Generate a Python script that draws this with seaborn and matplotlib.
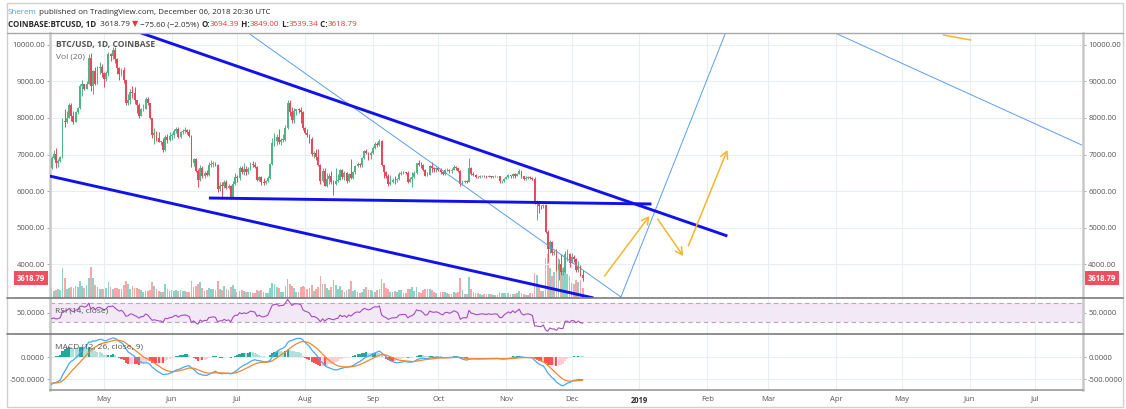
"""
BTC/USD daily chart (TradingView style) with trendlines, RSI and MACD panes.
"""
import matplotlib
matplotlib.use("Agg")
import matplotlib.pyplot as plt
import matplotlib.dates as mdates
import matplotlib.transforms as mtransforms
from matplotlib.lines import Line2D
from matplotlib.patches import Rectangle
import numpy as np
import pandas as pd
import seaborn as sns

W, H = 1126, 409

# ---- data ----------------------------------------------------------------
# closes before the visible window, only used to warm up RSI / MACD
warmup_close = [
    9100, 8830, 9180, 8190, 6950, 7680, 7620, 8250, 8700, 8560, 8080, 8890, 8540, 9470,
    10040, 10170, 11100, 10400, 11150, 11230, 10470, 9830, 10160, 9680, 9600, 10330, 10590, 10330,
    10900, 11000, 11450, 11500, 11560, 10770, 9900, 9300, 9230, 8790, 9540, 9140, 9150, 8200,
    8260, 8270, 7870, 8200, 8600, 8900, 8900, 8720, 8920, 8550, 8450, 8130, 7790, 7950,
    7090, 6840, 6930, 6820, 7050, 7420, 6790, 6780, 6630,
]
first_day = "2018-04-07"

close = [
    # Apr
    6900, 7020, 6770, 6830, 6930, 7920, 7890, 8000, 8360, 8060, 7890, 8160, 8280, 8860, 8920, 8800,
    8940, 9650, 8870, 9280, 8930, 9350, 9400, 9240,
    # May
    9070, 9220, 9740, 9700, 9860, 9620, 9370, 9190, 9320, 9030, 8420, 8480, 8720, 8680, 8490, 8340,
    8060, 8240, 8240, 8520, 8400, 8000, 7520, 7580, 7460, 7350, 7350, 7110, 7470, 7400, 7500,
    # Jun
    7520, 7640, 7710, 7490, 7620, 7650, 7680, 7620, 7510, 6770, 6880, 6550, 6310, 6640, 6400, 6490,
    6450, 6710, 6740, 6760, 6720, 6050, 6150, 6140, 6250, 6080, 6130, 5850, 6200, 6390,
    # Jul
    6360, 6620, 6510, 6600, 6530, 6610, 6750, 6710, 6670, 6300, 6390, 6250, 6220, 6270, 6350, 6730,
    7320, 7380, 7470, 7330, 7400, 7400, 7720, 8400, 8170, 7930, 8180, 8230, 8210, 8170, 7730,
    # Aug
    7600, 7530, 7410, 7010, 7030, 6940, 6720, 6280, 6540, 6150, 6320, 6400, 6260, 6190, 6270, 6310,
    6580, 6390, 6490, 6270, 6480, 6360, 6530, 6690, 6740, 6700, 6900, 7090, 7030, 6980, 7030,
    # Sep
    7190, 7280, 7260, 7360, 6700, 6510, 6410, 6190, 6250, 6300, 6290, 6320, 6480, 6500, 6520, 6500,
    6250, 6340, 6380, 6490, 6760, 6710, 6700, 6580, 6420, 6450, 6680, 6620, 6600, 6630,
    # Oct
    6590, 6510, 6460, 6570, 6590, 6540, 6580, 6660, 6630, 6560, 6200, 6260, 6270, 6260, 6640, 6470,
    6450, 6390, 6380, 6410, 6420, 6410, 6390, 6420, 6390, 6400, 6410, 6400, 6270, 6270, 6340,
    # Nov
    6390, 6440, 6400, 6480, 6420, 6480, 6540, 6400, 6340, 6370, 6380, 6360, 6330, 5650, 5650, 5600,
    5580, 5630, 4870, 4430, 4600, 4320, 4330, 3850, 4000, 3800, 3800, 4270, 4280, 4040,
    # Dec
    4200, 4140, 3840, 3960, 3694.39, 3618.79,
]

high = [
    6950, 7110, 7180, 6880, 6970, 8000, 8230, 8180, 8410, 8410, 8180, 8200, 8300, 8930, 9040, 8940,
    9000, 9750, 9760, 9310, 9380, 9430, 9530, 9460,
    9250, 9270, 9800, 9780, 9940, 9950, 9640, 9390, 9370, 9380, 9040, 8650, 8780, 8870, 8850, 8500,
    8400, 8280, 8380, 8580, 8560, 8410, 8010, 7730, 7650, 7620, 7380, 7450, 7530, 7560, 7620,
    7600, 7700, 7760, 7760, 7650, 7700, 7760, 7700, 7690, 7520, 6900, 6900, 6600, 6700, 6680, 6560,
    6580, 6800, 6850, 6830, 6800, 6740, 6250, 6260, 6300, 6290, 6200, 6180, 6280, 6490,
    6440, 6680, 6680, 6780, 6690, 6650, 6790, 6810, 6800, 6690, 6400, 6400, 6350, 6310, 6400, 6760,
    7450, 7590, 7550, 7690, 7440, 7550, 7800, 8500, 8490, 8300, 8270, 8250, 8280, 8290, 8180,
    7760, 7700, 7560, 7490, 7090, 7160, 7150, 6750, 6620, 6620, 6490, 6490, 6550, 6290, 6620, 6480,
    6600, 6610, 6550, 6520, 6500, 6890, 6560, 6720, 6800, 6780, 6940, 7130, 7140, 7080, 7100,
    7240, 7340, 7340, 7410, 7390, 6720, 6550, 6470, 6440, 6370, 6400, 6350, 6530, 6550, 6560, 6530,
    6540, 6390, 6520, 6540, 6780, 6840, 6790, 6730, 6600, 6530, 6720, 6800, 6650, 6650,
    6660, 6620, 6540, 6600, 6640, 6600, 6620, 6700, 6680, 6640, 6570, 6300, 6300, 6310, 6900, 6660,
    6510, 6480, 6420, 6440, 6450, 6440, 6420, 6450, 6420, 6420, 6430, 6420, 6410, 6300, 6360,
    6410, 6460, 6450, 6500, 6490, 6500, 6600, 6550, 6420, 6400, 6400, 6420, 6380, 6380, 5760, 5670,
    5620, 5650, 5650, 4950, 4660, 4640, 4400, 4420, 4150, 4280, 3930, 4370, 4420, 4310,
    4320, 4250, 4160, 4090, 3970, 3849,
]

low = [
    6610, 6880, 6630, 6660, 6790, 6900, 7750, 7850, 7990, 7920, 7830, 7880, 8110, 8250, 8600, 8760,
    8790, 8930, 8730, 8650, 8900, 8920, 9200, 9110,
    8850, 9000, 9150, 9550, 9600, 9500, 9200, 9030, 9140, 8960, 8340, 8340, 8380, 8540, 8380, 8140,
    8000, 8060, 8190, 8230, 8340, 7960, 7450, 7300, 7360, 7350, 7250, 7080, 7090, 7310, 7380,
    7400, 7460, 7580, 7450, 7440, 7560, 7600, 7560, 7470, 6660, 6680, 6520, 6120, 6280, 6350, 6370,
    6420, 6420, 6650, 6670, 6690, 5980, 6000, 5780, 6080, 6050, 6050, 5780, 5830, 6180,
    6250, 6300, 6460, 6450, 6450, 6480, 6580, 6670, 6620, 6280, 6280, 6180, 6160, 6190, 6250, 6340,
    6700, 7240, 7270, 7300, 7270, 7330, 7380, 7700, 8050, 7860, 7850, 8080, 8130, 7860, 7660,
    7550, 7480, 7320, 6950, 6900, 6860, 6690, 6200, 6250, 6130, 6120, 6200, 6200, 5900, 6170, 6240,
    6290, 6330, 6300, 6230, 6250, 6320, 6330, 6470, 6650, 6650, 6670, 6870, 7010, 6860, 6880,
    7010, 7150, 7210, 7230, 6680, 6350, 6370, 6130, 6160, 6220, 6200, 6260, 6300, 6430, 6480, 6460,
    6230, 6240, 6100, 6370, 6480, 6680, 6620, 6550, 6400, 6400, 6440, 6530, 6530, 6530,
    6550, 6480, 6430, 6440, 6540, 6500, 6500, 6570, 6590, 6530, 6150, 6160, 6230, 6220, 6240, 6430,
    6420, 6360, 6360, 6370, 6390, 6390, 6370, 6380, 6370, 6370, 6380, 6380, 6210, 6230, 6250,
    6330, 6360, 6370, 6370, 6370, 6400, 6470, 6360, 6300, 6310, 6330, 6340, 6290, 5640, 5200, 5400,
    5510, 5530, 4850, 4050, 4300, 4250, 4250, 3820, 3580, 3720, 3700, 3760, 4080, 3930,
    4040, 4050, 3780, 3780, 3680, 3539.34,
]

volume_k = [
    10, 7, 8, 9, 8, 30, 20, 9, 10, 11, 10, 12, 11, 17, 12, 10, 13, 20, 31, 20, 13, 11, 9, 9,
    9, 10, 16, 11, 9, 10, 10, 9, 9, 13, 17, 14, 9, 12, 10, 10, 9, 8, 6, 7, 7, 8, 16, 12, 9, 7,
    6, 6, 14, 9, 7,
    8, 7, 8, 7, 8, 7, 7, 6, 6, 17, 11, 12, 14, 16, 10, 7, 8, 10, 9, 9, 8, 17, 9, 8, 12, 9, 8, 11,
    13, 9,
    6, 7, 8, 7, 6, 6, 6, 5, 5, 8, 7, 8, 6, 5, 5, 10, 15, 14, 11, 10, 6, 6, 12, 19, 14, 12, 10, 6,
    6, 11, 12,
    11, 9, 10, 13, 7, 9, 11, 22, 14, 14, 10, 8, 11, 18, 13, 9, 12, 8, 6, 8, 9, 17, 7, 8, 6, 5, 6,
    9, 11, 8, 8,
    7, 6, 8, 9, 19, 15, 10, 9, 6, 6, 7, 6, 8, 8, 5, 5, 9, 9, 11, 7, 11, 6, 5, 8, 9, 9, 9, 8, 6, 5,
    6, 6, 6, 6, 5, 4, 4, 6, 5, 6, 20, 8, 4, 4, 21, 9, 6, 5, 5, 4, 3, 4, 4, 4, 4, 3, 3, 3, 6, 5, 5,
    5, 5, 4, 4, 4, 5, 7, 5, 4, 3, 3, 5, 5, 25, 23, 12, 7, 7, 40, 44, 30, 22, 26, 28, 40, 33, 30,
    35, 24, 22,
    15, 14, 18, 16, 18, 10,
]

# hand-drawn trendlines: (start date, price) -> (end date, price)
thick_lines = [
    (("2018-05-18", 10320), ("2019-02-10 05:00", 4773)),
    (("2018-04-06", 6413), ("2018-12-11", 3079)),
    (("2018-06-18", 5811), ("2019-01-06 12:00", 5648)),
]
thin_lines = [
    (("2018-07-06", 10320), ("2018-12-23 12:00", 3107)),
    (("2018-12-23 12:00", 3107), ("2019-02-09 08:00", 10320)),
    (("2019-03-31 12:00", 10320), ("2019-07-22 08:00", 7260)),
]
orange_arrows = [
    (("2018-12-16", 3680), ("2019-01-05 14:00", 5320)),
    (("2019-01-09 08:00", 5238), ("2019-01-21", 4227)),
    (("2019-01-23 08:00", 4500), ("2019-02-10 05:00", 7123)),
]
orange_segments = [
    (("2019-05-20", 10265), ("2019-06-01 14:00", 10128)),
]

last_price = 3618.79
price_ticks = [4000, 5000, 6000, 7000, 8000, 9000, 10000]
rsi_ticks = [50]
macd_ticks = [-500, 0]
month_ticks = pd.date_range("2018-05-01", "2019-07-01", freq="MS")

# ---- colours ---------------------------------------------------------------
UP, DOWN = "#4fb585", "#e9485a"
VOL_UP, VOL_DOWN = "#8ed2c7", "#f6a8a8"
THICK_BLUE, THIN_BLUE, ORANGE = "#1111ee", "#5b9ee9", "#f6b52c"
GRID = "#e8eef4"
TXT = "#555555"
TICK_FS = 5.5

sns.set_theme(style="white")
plt.rcParams["font.family"] = ["Open Sans", "DejaVu Sans"]


def dnum(s):
    return mdates.date2num(pd.Timestamp(s))


# ---- indicators (computed from closes) ------------------------------------
full = pd.Series(warmup_close + close, dtype=float)
delta = full.diff()
gain = delta.clip(lower=0).ewm(alpha=1 / 14, adjust=False).mean()
loss = (-delta.clip(upper=0)).ewm(alpha=1 / 14, adjust=False).mean()
rsi_full = 100 - 100 / (1 + gain / loss)
macd_full = full.ewm(span=12, adjust=False).mean() - full.ewm(span=26, adjust=False).mean()
signal_full = macd_full.ewm(span=9, adjust=False).mean()
hist_full = macd_full - signal_full
prev_hist = hist_full.shift(1)

n = len(close)
rsi = rsi_full.iloc[-n:].to_numpy()
macd = macd_full.iloc[-n:].to_numpy()
signal = signal_full.iloc[-n:].to_numpy()
hist = hist_full.iloc[-n:].to_numpy()
hist_prev = prev_hist.iloc[-n:].to_numpy()

dates = pd.date_range(first_day, periods=n, freq="D")
x = mdates.date2num(dates)
c = np.array(close, dtype=float)
o = np.array([warmup_close[-1]] + close[:-1], dtype=float)
up = c >= o
candle_cols = np.where(up, UP, DOWN)
vol_cols = np.where(up, VOL_UP, VOL_DOWN)
hist_cols = np.where(
    hist >= 0,
    np.where(hist > hist_prev, "#26a69a", "#b2dfdb"),
    np.where(hist < hist_prev, "#ff5252", "#ffcdd2"),
)

# ---- layout ----------------------------------------------------------------
fig = plt.figure(figsize=(W / 100, H / 100), dpi=100)
fig.patch.set_facecolor("white")
L, R = 50, 1083


def rect(top, bottom):
    return [L / W, 1 - bottom / H, (R - L) / W, (bottom - top) / H]


ax_p = fig.add_axes(rect(33, 298))
ax_v = ax_p.twinx()
ax_r = fig.add_axes(rect(298, 334), sharex=ax_p)
ax_m = fig.add_axes(rect(334, 390), sharex=ax_p)
ax_p.set_zorder(ax_v.get_zorder() + 1)
ax_p.patch.set_visible(False)

# volume
ax_v.bar(x, volume_k, width=0.8, color=vol_cols, linewidth=0)
ax_v.set_ylim(0, 265)
ax_v.axis("off")

# candles
ax_p.vlines(x, low, high, colors=candle_cols, lw=0.7, zorder=3)
body = np.maximum(np.abs(c - o), 15)
ax_p.bar(x, body, bottom=np.minimum(o, c), width=0.85, color=candle_cols, linewidth=0, zorder=4)

# drawings
for (d1, p1), (d2, p2) in thick_lines:
    ax_p.plot([dnum(d1), dnum(d2)], [p1, p2], color=THICK_BLUE, lw=2.1, zorder=6,
              solid_capstyle="butt")
for (d1, p1), (d2, p2) in thin_lines:
    ax_p.plot([dnum(d1), dnum(d2)], [p1, p2], color=THIN_BLUE, lw=0.7, zorder=5)
for (d1, p1), (d2, p2) in orange_segments:
    ax_p.plot([dnum(d1), dnum(d2)], [p1, p2], color=ORANGE, lw=1.1, zorder=6)
for (d1, p1), (d2, p2) in orange_arrows:
    ax_p.annotate("", xy=(dnum(d2), p2), xytext=(dnum(d1), p1),
                  arrowprops=dict(arrowstyle="->,head_length=0.55,head_width=0.3",
                                  color=ORANGE, lw=1.1, shrinkA=0, shrinkB=0,
                                  mutation_scale=9), zorder=6)

ax_p.set_ylim(3079, 10320)
ax_p.set_xlim(dnum("2018-04-06 07:00"), dnum("2019-07-22 22:00"))

# RSI pane
ax_r.axhspan(30, 70, color="#9c27b0", alpha=0.1, lw=0, zorder=0)
for lvl in (30, 70):
    ax_r.axhline(lvl, color="#b9a5bf", lw=0.8, ls=(0, (4, 3)), zorder=1)
sns.lineplot(x=x, y=rsi, ax=ax_r, color="#a64bc0", lw=0.8, zorder=3)
ax_r.set_ylim(5.8, 80.4)

# MACD pane
ax_m.bar(x, hist, width=0.95, color=hist_cols, linewidth=0, zorder=2)
sns.lineplot(x=x, y=macd, ax=ax_m, color="#46a9f5", lw=0.9, zorder=3)
sns.lineplot(x=x, y=signal, ax=ax_m, color="#f7862c", lw=0.9, zorder=3)
ax_m.set_ylim(-750, 523)

# axes cosmetics
for ax, ticks, fmt in ((ax_p, price_ticks, "{:.2f}"), (ax_r, rsi_ticks, "{:.4f}"),
                       (ax_m, macd_ticks, "{:.4f}")):
    ax.set_yticks(ticks)
    ax.set_yticklabels([fmt.format(t) for t in ticks])
    ax.set_xticks(mdates.date2num(month_ticks))
    ax.grid(True, color=GRID, lw=0.8)
    ax.set_axisbelow(True)
    ax.tick_params(axis="y", left=True, right=True, labelleft=True, labelright=True,
                   length=2.5, width=0.6, color="#9a9a9a", labelsize=TICK_FS,
                   labelcolor=TXT, pad=1.2)
    ax.set_ylabel("")
    for side in ("top", "bottom"):
        ax.spines[side].set_visible(False)
    for side in ("left", "right"):
        ax.spines[side].set_color("#c8c8c8")
        ax.spines[side].set_linewidth(1.8)

for ax in (ax_p, ax_r):
    ax.tick_params(axis="x", bottom=False, labelbottom=False)

ax_m.spines["bottom"].set_visible(True)
ax_m.spines["bottom"].set_color("#9a9a9a")
ax_m.spines["bottom"].set_linewidth(1.2)
ax_m.tick_params(axis="x", bottom=False, length=0, labelsize=TICK_FS, labelcolor=TXT, pad=4)
ax_m.set_xticklabels(["2019" if d.month == 1 else d.strftime("%b") for d in month_ticks])
for lab, d in zip(ax_m.get_xticklabels(), month_ticks):
    if d.month == 1:
        lab.set_fontweight("bold")
        lab.set_color("#333333")

# last price tags
blend = mtransforms.blended_transform_factory(ax_p.transAxes, ax_p.transData)
for xa, ha in ((-5 / (R - L), "right"), (1 + 5 / (R - L), "left")):
    ax_p.text(xa, last_price, f"{last_price:.2f}", transform=blend, ha=ha, va="center",
              color="white", fontsize=TICK_FS, fontweight="bold", clip_on=False, zorder=10,
              bbox=dict(boxstyle="square,pad=0.35", fc="#ef4f5f", ec="none"))

# pane titles
ax_p.text(0.0055, 0.955, "BTC/USD, 1D, COINBASE", transform=ax_p.transAxes, fontsize=6.1,
          fontweight="bold", color="#555555", va="center")
ax_p.text(0.0055, 0.909, "Vol (20)", transform=ax_p.transAxes, fontsize=6,
          color="#666666", va="center")
ax_r.text(0.005, 0.65, "RSI (14, close)", transform=ax_r.transAxes, fontsize=6,
          color="#555555", va="center")
ax_m.text(0.005, 0.77, "MACD (12, 26, close, 9)", transform=ax_m.transAxes, fontsize=6,
          color="#555555", va="center")

# frame lines
fig.add_artist(Rectangle((7 / W, 2 / H), 1116 / W, 404 / H, transform=fig.transFigure,
                         fill=False, ec="#d0d0d0", lw=1))
for y, col, lw in ((33, "#a8a8a8", 1.0), (298, "#7c7c7c", 1.2), (334, "#7c7c7c", 1.2)):
    fig.add_artist(Line2D([7 / W, 1123 / W], [1 - y / H] * 2, transform=fig.transFigure,
                          color=col, lw=lw))

# header
renderer = fig.canvas.get_renderer()


def text_run(x0, y0, pieces, size):
    xpos = x0
    for s, col, wt in pieces:
        t = fig.text(xpos / W, 1 - y0 / H, s, color=col, fontweight=wt, fontsize=size,
                     ha="left", va="center")
        xpos += t.get_window_extent(renderer).width


RED = "#e53935"
DARK = "#2a2a2a"
text_run(8, 12, [("Sherem", "#3ba9e4", "normal"),
                 (" published on TradingView.com, December 06, 2018 20:36 UTC", DARK, "normal")],
         5.8)
text_run(8, 24.5, [("COINBASE:BTCUSD, 1D", DARK, "bold"), ("  3618.79 ", DARK, "normal"),
                   ("▼", RED, "normal"), (" \u221275.60 (\u22122.05%) ", DARK, "normal"),
                   ("O:", DARK, "bold"), ("3694.39", RED, "normal"),
                   (" H:", DARK, "bold"), ("3849.00", RED, "normal"),
                   (" L:", DARK, "bold"), ("3539.34", RED, "normal"),
                   (" C:", DARK, "bold"), ("3618.79", RED, "normal")], 5.8)

fig.savefig("out.png", dpi=100)
